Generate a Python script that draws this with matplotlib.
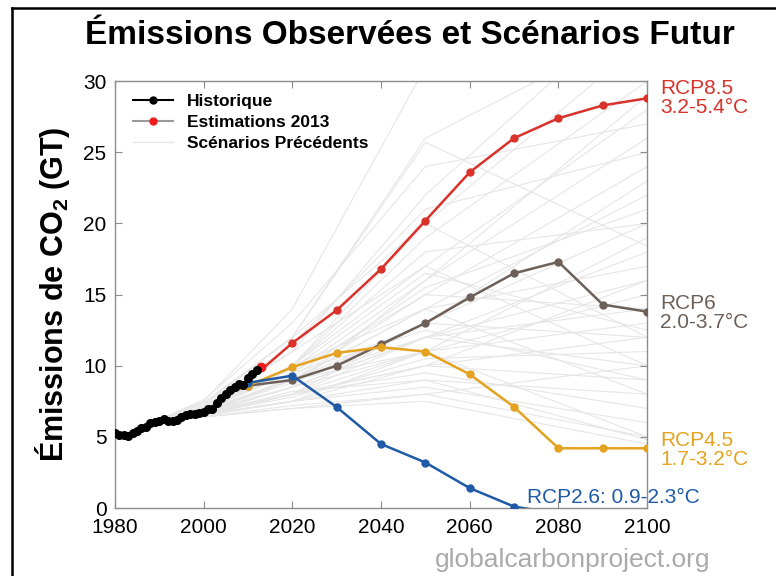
import matplotlib
matplotlib.use("Agg")
import matplotlib.pyplot as plt
from matplotlib.lines import Line2D

plt.rcParams['font.family'] = ['Liberation Sans', 'DejaVu Sans']
plt.rcParams['mathtext.fontset'] = 'custom'
plt.rcParams['mathtext.rm'] = 'Liberation Sans'
plt.rcParams['mathtext.bf'] = 'Liberation Sans:bold'

# ---------------- data ----------------
hist_years = list(range(1980, 2013))
hist_values = [5.30, 5.15, 5.11, 5.09, 5.27, 5.43, 5.60, 5.73, 5.96, 6.08,
               6.14, 6.23, 6.10, 6.13, 6.19, 6.38, 6.53, 6.63, 6.61, 6.65,
               6.77, 6.93, 6.99, 7.38, 7.74, 8.02, 8.29, 8.53, 8.74, 8.62,
               9.14, 9.45, 9.67]
est_year = [2012, 2013]
est_value = [9.67, 9.9]

rcp_years = [2005, 2010, 2020, 2030, 2040, 2050, 2060, 2070, 2080, 2090, 2100]
rcp85 = [8.0, 8.9, 11.6, 13.9, 16.8, 20.2, 23.6, 26.0, 27.4, 28.3, 28.8]
rcp6 = [8.0, 8.6, 9.0, 10.0, 11.5, 13.0, 14.8, 16.5, 17.3, 14.3, 13.8]
rcp45 = [8.0, 8.6, 9.9, 10.9, 11.3, 11.0, 9.4, 7.1, 4.2, 4.2, 4.2]
rcp26 = [8.0, 8.8, 9.3, 7.1, 4.5, 3.2, 1.4, 0.1, -0.4, -0.6, -0.5]

# previous scenarios (SRES / IS92 style), values at these years
scen_years = [1990, 2000, 2020, 2050, 2100]
scenarios = [
    [6.1, 7.0, 11.0, 22.0, 36.0],
    [6.1, 7.2, 12.0, 26.0, 34.0],
    [6.2, 7.5, 14.0, 31.0, 38.0],
    [6.1, 6.9, 10.0, 19.0, 30.0],
    [6.0, 6.8, 10.0, 17.0, 28.0],
    [6.1, 6.9, 9.5, 16.0, 26.0],
    [6.2, 7.4, 12.0, 25.7, 18.4],
    [6.0, 6.8, 9.0, 15.0, 24.0],
    [6.0, 6.7, 9.0, 14.0, 22.0],
    [6.1, 7.0, 10.0, 18.0, 20.0],
    [6.0, 6.8, 8.8, 13.0, 20.0],
    [6.0, 6.9, 9.0, 14.0, 17.0],
    [6.0, 6.7, 8.5, 12.0, 16.0],
    [6.1, 7.0, 9.5, 15.0, 14.0],
    [6.0, 6.6, 8.5, 11.0, 15.0],
    [6.0, 6.6, 8.0, 11.0, 13.0],
    [6.0, 6.8, 9.0, 13.0, 12.0],
    [6.0, 6.6, 8.0, 10.0, 12.0],
    [6.0, 6.7, 8.5, 12.0, 10.0],
    [6.0, 6.5, 8.0, 10.0, 9.0],
    [6.0, 6.5, 7.5, 9.0, 8.0],
    [6.0, 6.6, 8.0, 9.5, 7.0],
    [6.0, 6.5, 7.5, 8.5, 6.0],
    [6.0, 6.4, 7.2, 8.0, 5.0],
    [6.0, 6.4, 7.0, 7.5, 4.5],
    [6.1, 6.9, 9.0, 11.0, 5.0],
    [6.1, 7.0, 10.0, 14.0, 8.0],
    [6.1, 7.1, 11.0, 17.0, 10.0],
    [6.2, 7.3, 12.0, 20.0, 12.0],
    [6.0, 6.7, 8.0, 12.0, 18.0],
    [6.0, 6.6, 7.5, 11.0, 19.0],
    [6.0, 6.7, 8.0, 13.0, 23.0],
    [6.0, 6.8, 8.5, 16.0, 29.0],
    [6.1, 7.0, 10.0, 20.0, 33.0],
    [6.0, 6.8, 9.0, 12.0, 14.0],
    [6.0, 6.4, 7.0, 8.0, 10.0],
    [6.0, 6.6, 7.8, 10.5, 11.0],
    [6.1, 6.9, 9.5, 12.5, 9.0],
    [6.0, 6.6, 8.2, 9.0, 4.8],
    [6.0, 6.5, 7.5, 10.0, 16.0],
    [6.2, 7.6, 13.0, 24.0, 27.0],
    [6.1, 7.1, 11.5, 21.0, 25.0],
    [6.0, 6.7, 9.2, 15.5, 21.0],
    [6.0, 6.8, 9.8, 16.5, 12.5],
]

# ---------------- colours ----------------
c_red = '#d8322a'
c_brown = '#6d6058'
c_orange = '#e3a21f'
c_blue = '#1f5aa6'
c_gray = '#e6e6e6'

fig = plt.figure(figsize=(7.76, 5.76), dpi=100)
ax = fig.add_axes([0.148, 0.118, 0.686, 0.741])

for s in scenarios:
    ax.plot(scen_years, s, color=c_gray, lw=0.8, zorder=1)

ax.plot(rcp_years, rcp85, color=c_red, lw=1.8, marker='o', ms=5, zorder=3)
ax.plot(rcp_years, rcp6, color=c_brown, lw=1.8, marker='o', ms=5, zorder=3)
ax.plot(rcp_years, rcp45, color=c_orange, lw=1.8, marker='o', ms=5, zorder=3)
ax.plot(rcp_years, rcp26, color=c_blue, lw=1.8, marker='o', ms=5, zorder=3)

ax.plot(est_year, est_value, color='#999999', lw=1.5, zorder=4)
ax.plot(est_year[-1:], est_value[-1:], 'o', color='#ee1c1c', ms=6, zorder=5)
ax.plot(hist_years, hist_values, color='black', lw=1.5, marker='o', ms=5.5, zorder=6)

ax.set_xlim(1980, 2100)
ax.set_ylim(0, 30)
ax.set_xticks([1980, 2000, 2020, 2040, 2060, 2080, 2100])
ax.set_yticks([0, 5, 10, 15, 20, 25, 30])
for sp in ax.spines.values():
    sp.set_color('#8c8c8c')
    sp.set_linewidth(1.0)
ax.tick_params(direction='in', length=5, color='#8c8c8c', top=True, right=True,
               labelsize=15, pad=6)
ax.tick_params(axis='x', pad=7)

ax.set_ylabel(r'Émissions de CO$_\mathbf{2}$ (GT)', fontsize=22, fontweight='bold', labelpad=8)

# legend
handles = [
    Line2D([], [], color='black', lw=1.5, marker='o', ms=5),
    Line2D([], [], color='#999999', lw=1.5, marker='o', ms=5, markerfacecolor='#ee1c1c',
           markeredgecolor='#ee1c1c'),
    Line2D([], [], color=c_gray, lw=1.0),
]
leg = ax.legend(handles, ['Historique', 'Estimations 2013', 'Scénarios Précédents'],
                loc='upper left', frameon=False, prop={'weight': 'bold', 'size': 12.5},
                handlelength=2.3, labelspacing=0.35, borderaxespad=0.2,
                bbox_to_anchor=(0.015, 0.995))

# right-side labels
lab_kw = dict(fontsize=15, va='center', ha='left', transform=ax.transData, clip_on=False)
ax.text(2103, 28.8, 'RCP8.5\n3.2-5.4°C', color=c_red, linespacing=1.0, **lab_kw)
ax.text(2103, 13.7, 'RCP6\n2.0-3.7°C', color=c_brown, linespacing=1.0, **lab_kw)
ax.text(2103, 4.1, 'RCP4.5\n1.7-3.2°C', color=c_orange, linespacing=1.0, **lab_kw)
ax.text(2073, 0.75, 'RCP2.6: 0.9-2.3°C', color=c_blue, **lab_kw)

fig.text(0.528, 0.939, 'Émissions Observées et Scénarios Futur', fontsize=24,
         fontweight='bold', ha='center', va='center')
fig.text(0.915, 0.027, 'globalcarbonproject.org', fontsize=19, color='#aaaaaa',
         ha='right', va='center')

# outer frame (left and top edges)
fig.add_artist(Line2D([0.0155, 0.0155], [0.0, 0.986], color='black', lw=1.8,
                      transform=fig.transFigure))
fig.add_artist(Line2D([0.0155, 1.0], [0.986, 0.986], color='black', lw=1.8,
                      transform=fig.transFigure))

fig.savefig('out.png', dpi=100)
